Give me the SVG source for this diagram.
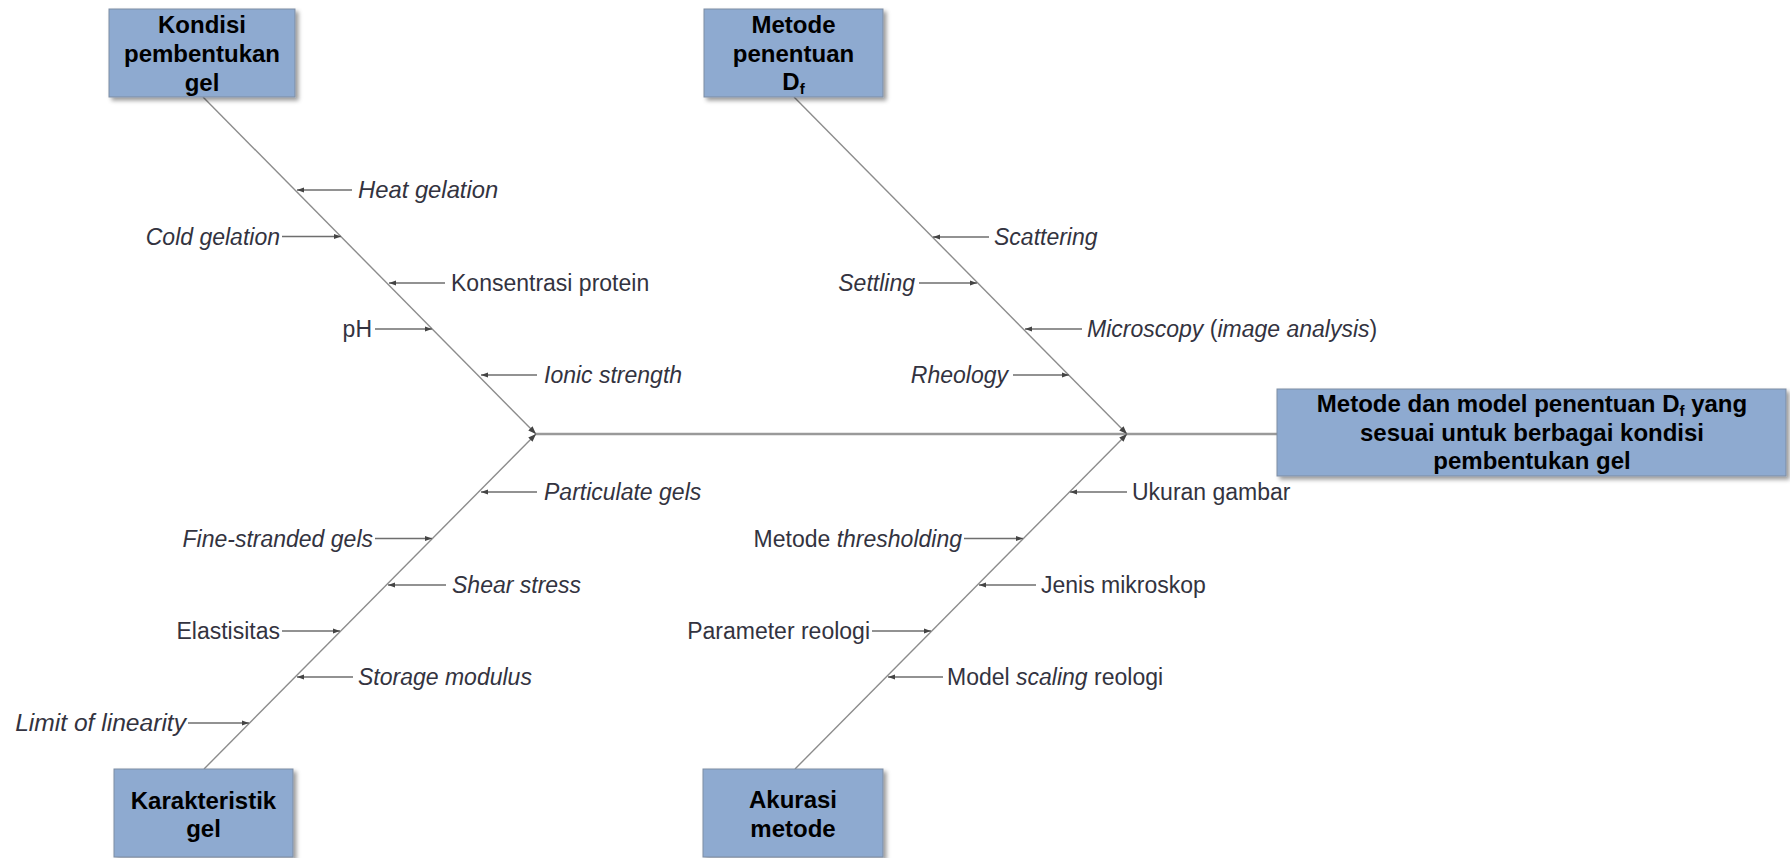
<svg xmlns="http://www.w3.org/2000/svg" width="1790" height="858" viewBox="0 0 1790 858">
<style>
  .box{fill:#8eaad0;stroke:#7d8da3;stroke-width:1;filter:url(#sh)}
  .bt{font-family:"Liberation Sans",Arial,sans-serif;font-weight:bold;font-size:24px;fill:#000;text-anchor:middle}
  .lb{font-family:"Liberation Sans",Arial,sans-serif;font-size:23px;fill:#333340}
  .it{font-style:italic}
  .r{text-anchor:end}
  .bone{stroke:#8c8c8c;stroke-width:1.4;fill:none}
  .spine{stroke:#9a9a9a;stroke-width:2.5;fill:none}
  .ar{stroke:#6e6e6e;stroke-width:1.4;fill:none;marker-end:url(#ah)}
</style>
<defs>
  <filter id="sh" x="-10%" y="-10%" width="130%" height="140%">
    <feDropShadow dx="3" dy="3" stdDeviation="2" flood-color="#000" flood-opacity="0.4"/>
  </filter>
  <marker id="ah" markerUnits="userSpaceOnUse" markerWidth="8" markerHeight="6" refX="7" refY="3" orient="auto">
    <path d="M0,0.5 L7,3 L0,5.5 z" fill="#444"/>
  </marker>
  <marker id="aj" markerUnits="userSpaceOnUse" markerWidth="9" markerHeight="7" refX="8" refY="3.5" orient="auto">
    <path d="M0,0.5 L8,3.5 L0,6.5 z" fill="#444"/>
  </marker>
</defs>
<rect width="1790" height="858" fill="#fff"/>

<g id="connectors">
  <line class="spine" x1="536" y1="434" x2="1277" y2="434"/>
  <line class="bone" x1="203" y1="97" x2="536" y2="434" marker-end="url(#aj)"/>
  <line class="bone" x1="204" y1="769" x2="536" y2="434" marker-end="url(#aj)"/>
  <line class="bone" x1="794" y1="97" x2="1127" y2="434" marker-end="url(#aj)"/>
  <line class="bone" x1="795" y1="769" x2="1127" y2="434" marker-end="url(#aj)"/>

  <line class="ar" x1="352" y1="190" x2="297" y2="190"/>
  <line class="ar" x1="282" y1="236.5" x2="341" y2="236.5"/>
  <line class="ar" x1="445" y1="283" x2="389" y2="283"/>
  <line class="ar" x1="375" y1="329" x2="432" y2="329"/>
  <line class="ar" x1="537" y1="375" x2="481" y2="375"/>

  <line class="ar" x1="989" y1="237" x2="933" y2="237"/>
  <line class="ar" x1="919" y1="283" x2="977" y2="283"/>
  <line class="ar" x1="1082" y1="329" x2="1025" y2="329"/>
  <line class="ar" x1="1013" y1="375" x2="1069" y2="375"/>

  <line class="ar" x1="537" y1="492" x2="481" y2="492"/>
  <line class="ar" x1="375" y1="538.5" x2="432" y2="538.5"/>
  <line class="ar" x1="446" y1="585" x2="388" y2="585"/>
  <line class="ar" x1="282" y1="631" x2="340" y2="631"/>
  <line class="ar" x1="353" y1="677" x2="297" y2="677"/>
  <line class="ar" x1="188" y1="723" x2="249" y2="723"/>

  <line class="ar" x1="1127" y1="492" x2="1070" y2="492"/>
  <line class="ar" x1="964" y1="538.5" x2="1023" y2="538.5"/>
  <line class="ar" x1="1036" y1="585" x2="979" y2="585"/>
  <line class="ar" x1="872" y1="631" x2="931" y2="631"/>
  <line class="ar" x1="943" y1="677" x2="888" y2="677"/>
</g>

<g id="labels">
  <text class="lb it" x="358" y="198" style="font-size:23.8px">Heat gelation</text>
  <text class="lb it r" x="280" y="244.5">Cold gelation</text>
  <text class="lb" x="451" y="291">Konsentrasi protein</text>
  <text class="lb r" x="372" y="337">pH</text>
  <text class="lb it" x="544" y="383">Ionic strength</text>

  <text class="lb it" x="994" y="245">Scattering</text>
  <text class="lb it r" x="915" y="291">Settling</text>
  <text class="lb" x="1087" y="337"><tspan class="it">Microscopy</tspan> (<tspan class="it">image analysis</tspan>)</text>
  <text class="lb it r" x="1008" y="383">Rheology</text>

  <text class="lb it" x="544" y="500">Particulate gels</text>
  <text class="lb it r" x="373" y="546.5">Fine-stranded gels</text>
  <text class="lb it" x="452" y="593">Shear stress</text>
  <text class="lb r" x="280" y="639">Elastisitas</text>
  <text class="lb it" x="358" y="685">Storage modulus</text>
  <text class="lb it r" x="186" y="731" style="font-size:24.6px">Limit of linearity</text>

  <text class="lb" x="1132" y="500">Ukuran gambar</text>
  <text class="lb r" x="962" y="546.5">Metode <tspan class="it">thresholding</tspan></text>
  <text class="lb" x="1041" y="593">Jenis mikroskop</text>
  <text class="lb r" x="870" y="639">Parameter reologi</text>
  <text class="lb" x="947" y="685">Model <tspan class="it">scaling</tspan> reologi</text>
</g>

<g id="node-kondisi">
  <rect class="box" x="109" y="9" width="186" height="88"/>
  <text class="bt" x="202" y="33">Kondisi</text>
  <text class="bt" x="202" y="62">pembentukan</text>
  <text class="bt" x="202" y="91">gel</text>
</g>
<g id="node-metode-penentuan">
  <rect class="box" x="704" y="9" width="179" height="88"/>
  <text class="bt" x="793.5" y="33">Metode</text>
  <text class="bt" x="793.5" y="62">penentuan</text>
  <text class="bt" x="793.5" y="90">D<tspan font-size="15" dy="4">f</tspan></text>
</g>
<g id="node-karakteristik">
  <rect class="box" x="114" y="769" width="179" height="88"/>
  <text class="bt" x="203.5" y="809">Karakteristik</text>
  <text class="bt" x="203.5" y="837">gel</text>
</g>
<g id="node-akurasi">
  <rect class="box" x="703" y="769" width="180" height="88"/>
  <text class="bt" x="793" y="808">Akurasi</text>
  <text class="bt" x="793" y="837">metode</text>
</g>
<g id="node-main">
  <rect class="box" x="1277" y="389" width="509" height="87"/>
  <text class="bt" x="1532" y="412">Metode dan model penentuan D<tspan font-size="15" dy="4">f</tspan><tspan dy="-4"> yang</tspan></text>
  <text class="bt" x="1532" y="441">sesuai untuk berbagai kondisi</text>
  <text class="bt" x="1532" y="469">pembentukan gel</text>
</g>
</svg>
